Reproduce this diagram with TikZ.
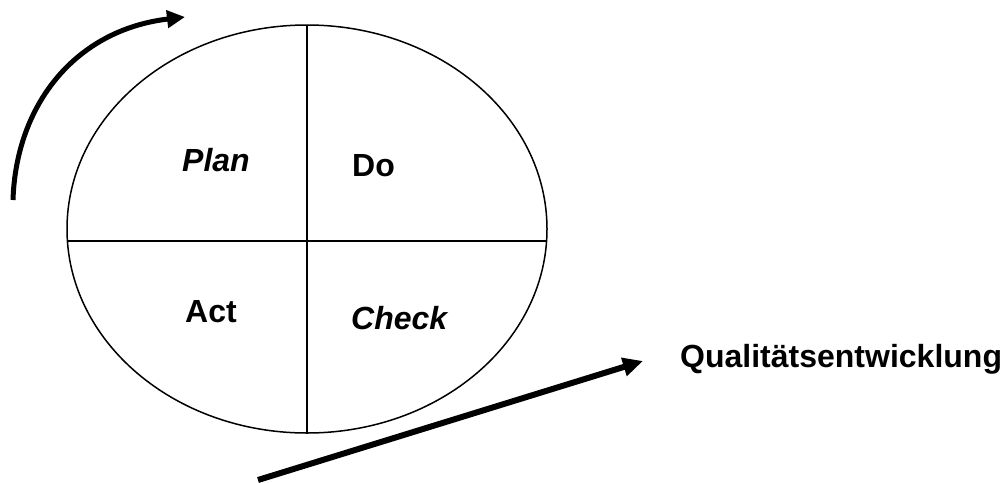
\documentclass[tikz,border=0pt]{standalone}
\usepackage{fontspec}
\setmainfont{Liberation Sans}
\usetikzlibrary{arrows.meta}
\begin{document}
\begin{tikzpicture}[x=1pt,y=-1pt,
  thinline/.style={line width=1.5pt},
  bigarrow/.style={line width=5pt,-{Triangle[length=18pt,width=17pt]}},
  lbl/.style={anchor=base west,inner sep=0pt,font=\fontsize{32}{38}\selectfont\bfseries}]
\useasboundingbox (0,0) rectangle (1006,482);
\draw[thinline] (307,229) ellipse [x radius=240, y radius=204];
\coordinate (top) at (307,25);
\coordinate (bot) at (307,433);
\coordinate (lft) at (67.4,241);
\coordinate (rgt) at (546.6,241);
\draw[thinline] (top) -- (bot);
\draw[thinline] (lft) -- (rgt);
\node[lbl] (plan) at (182,171) {\itshape Plan};
\node[lbl] (do) at (352,176) {Do};
\node[lbl] (act) at (185,322) {Act};
\node[lbl] (check) at (351,329) {\itshape Check};
\node[lbl] (qe) at (680,367) {Qualitätsentwicklung};
\coordinate (c1) at (13,200);
\coordinate (c2) at (185,17);
\draw[bigarrow] (c1) .. controls (16,105) and (75,30) .. (c2);
\coordinate (s1) at (258,480);
\coordinate (s2) at (643,361);
\draw[bigarrow,line width=6pt,-{Triangle[length=20pt,width=18pt]}] (s1) -- (s2);
\end{tikzpicture}
\end{document}
